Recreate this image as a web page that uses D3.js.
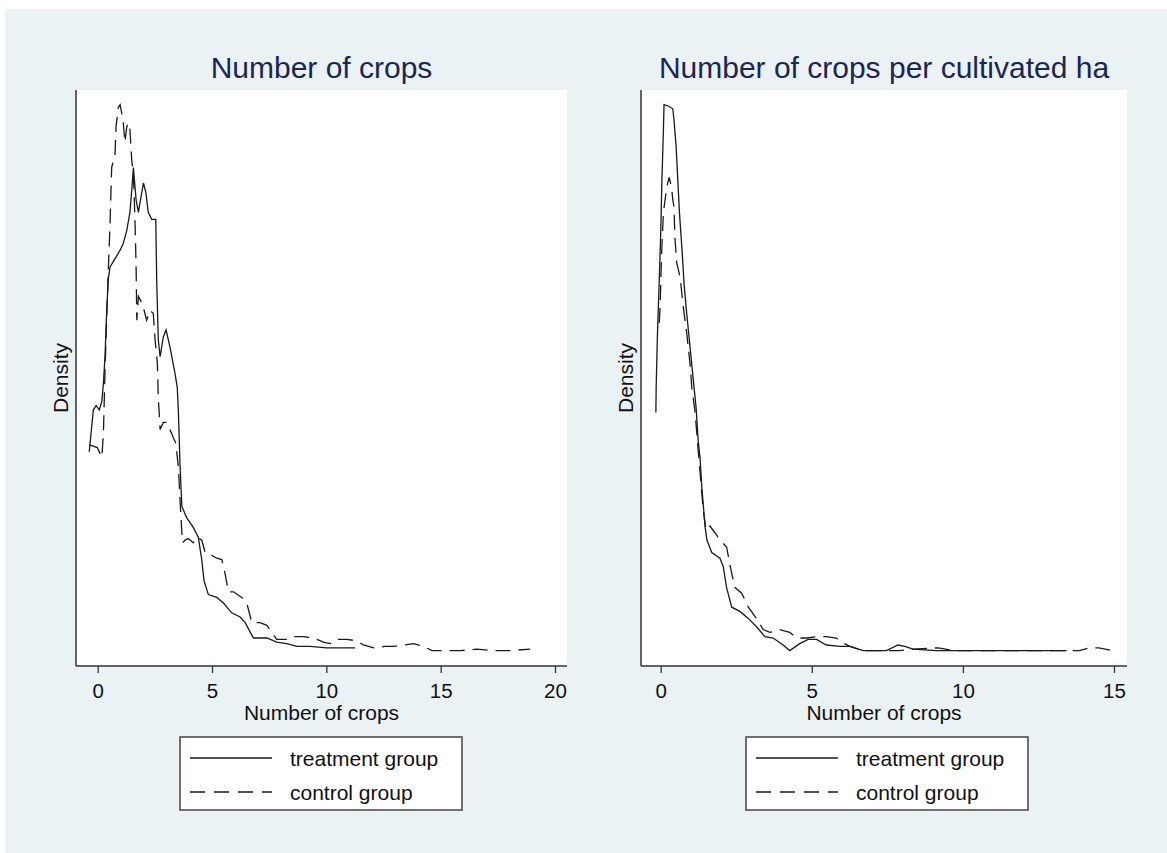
<!DOCTYPE html>
<html>
<head>
<meta charset="utf-8">
<script src="https://cdn.jsdelivr.net/npm/d3@7"></script>
<style>
  body { margin: 0; background: #fff; }
  text { font-family: "Liberation Sans", Arial, sans-serif; }
</style>
</head>
<body>
<script>
// kernel density curves (x = number of crops, y = density)
const leftTreatX = [-0.37,-0.19,-0.07,0.07,0.18,0.25,0.32,0.39,0.46,0.54,0.76,0.98,1.12,1.27,1.41,1.49,1.56,1.68,1.78,1.85,2.00,2.11,2.21,2.36,2.54,2.58,2.65,2.73,2.87,2.99,3.16,3.38,3.48,3.53,3.60,3.68,3.89,4.18,4.40,4.55,4.65,4.84,5.21,5.50,5.86,6.23,6.45,6.81,7.40,7.83,8.27,8.71,9.29,10.02,11.26];
const leftTreatY = [0.143,0.173,0.176,0.173,0.179,0.192,0.211,0.242,0.266,0.275,0.281,0.287,0.292,0.301,0.314,0.330,0.346,0.323,0.314,0.321,0.335,0.328,0.314,0.309,0.309,0.266,0.223,0.211,0.225,0.230,0.218,0.199,0.189,0.171,0.134,0.104,0.096,0.089,0.082,0.066,0.051,0.041,0.039,0.035,0.028,0.025,0.021,0.010,0.010,0.007,0.006,0.004,0.004,0.003,0.003];

const leftCtrlX = [-0.35,-0.02,0.18,0.25,0.32,0.39,0.46,0.54,0.61,0.76,0.80,0.90,0.98,1.05,1.12,1.19,1.27,1.34,1.41,1.49,1.56,1.63,1.68,1.71,1.78,1.88,2.00,2.14,2.29,2.43,2.51,2.61,2.65,2.73,2.87,3.02,3.16,3.31,3.42,3.45,3.53,3.60,3.68,3.72,3.82,3.96,4.18,4.33,4.55,4.70,4.84,4.99,5.21,5.43,5.57,5.72,5.94,6.30,6.52,6.74,7.10,7.40,7.61,7.83,8.27,8.56,9.00,9.44,9.87,10.17,10.46,10.90,11.33,11.62,12.07,12.57,12.94,13.37,13.81,14.25,14.62,14.84,15.86,16.58,17.31,18.04,18.92];
const leftCtrlY = [0.148,0.146,0.139,0.156,0.201,0.237,0.271,0.306,0.346,0.356,0.375,0.389,0.391,0.385,0.378,0.364,0.375,0.378,0.373,0.351,0.342,0.309,0.275,0.237,0.254,0.251,0.246,0.237,0.244,0.242,0.223,0.206,0.182,0.159,0.164,0.164,0.159,0.153,0.149,0.144,0.132,0.109,0.085,0.078,0.080,0.081,0.078,0.082,0.080,0.071,0.069,0.069,0.067,0.066,0.056,0.043,0.043,0.039,0.035,0.021,0.021,0.019,0.014,0.009,0.009,0.011,0.011,0.010,0.007,0.006,0.009,0.009,0.008,0.005,0.003,0.004,0.004,0.005,0.006,0.004,0.001,0.001,0.001,0.002,0.001,0.001,0.002];

const rightTreatX = [-0.16,-0.15,-0.11,-0.05,0.00,0.04,0.09,0.11,0.25,0.40,0.44,0.51,0.55,0.62,0.70,0.78,0.86,0.97,1.08,1.17,1.24,1.30,1.36,1.47,1.53,1.69,1.96,2.07,2.18,2.35,2.62,2.90,3.17,3.45,3.72,4.05,4.27,4.60,4.88,5.16,5.48,5.93,6.26,6.70,7.47,7.85,8.08,8.35,9.12,10.78,11.88,13.43];
const rightTreatY = [0.171,0.189,0.225,0.264,0.299,0.337,0.373,0.391,0.390,0.388,0.380,0.361,0.344,0.314,0.289,0.261,0.242,0.218,0.194,0.175,0.151,0.139,0.118,0.089,0.080,0.071,0.067,0.061,0.046,0.032,0.029,0.024,0.018,0.011,0.010,0.005,0.001,0.006,0.009,0.009,0.005,0.004,0.004,0.001,0.001,0.005,0.004,0.002,0.001,0.001,0.001,0.001];

const rightCtrlX = [-0.05,-0.02,0.03,0.09,0.20,0.28,0.36,0.40,0.44,0.47,0.53,0.64,0.75,0.86,0.97,1.03,1.14,1.24,1.41,1.50,1.63,1.80,1.96,2.18,2.35,2.46,2.68,2.90,3.17,3.39,3.61,3.94,4.27,4.50,4.83,5.16,5.48,5.81,5.98,6.26,6.70,7.47,7.90,8.35,9.18,9.68,11.88,13.31,13.86,14.20,14.50,14.96];
const rightCtrlY = [0.235,0.246,0.285,0.314,0.332,0.339,0.332,0.323,0.318,0.296,0.278,0.268,0.246,0.228,0.206,0.189,0.171,0.144,0.101,0.087,0.090,0.085,0.080,0.075,0.056,0.046,0.042,0.032,0.024,0.016,0.014,0.016,0.014,0.010,0.010,0.011,0.011,0.010,0.007,0.004,0.001,0.001,0.001,0.002,0.003,0.001,0.001,0.001,0.001,0.003,0.003,0.001];

const leftTicks = [0, 5, 10, 15, 20];
const rightTicks = [0, 5, 10, 15];
const panelTitles = ["Number of crops", "Number of crops per cultivated ha"];
const legendLabels = ["treatment group", "control group"];

function main(){
    const width = 1167, height = 853;
    const svg = d3.select("body").append("svg")
        .attr("width", width)
        .attr("height", height);

    // graph region
    svg.append("rect")
        .attr("x", 5).attr("y", 9)
        .attr("width", width - 5).attr("height", height - 9)
        .attr("fill", "#eaf2f3");

    const yScale = d3.scaleLinear().domain([0, 0.4]).range([652, 92]);

    const panels = [
        { title: panelTitles[0], left: 76, right: 567, x0: 97.7, x1: 555, dom: [0, 20], ticks: leftTicks,
          treat: d3.zip(leftTreatX, leftTreatY), ctrl: d3.zip(leftCtrlX, leftCtrlY), legX: 180 },
        { title: panelTitles[1], left: 641, right: 1127, x0: 660.7, x1: 1114, dom: [0, 15], ticks: rightTicks,
          treat: d3.zip(rightTreatX, rightTreatY), ctrl: d3.zip(rightCtrlX, rightCtrlY), legX: 746 }
    ];
    const top = 90, bottom = 666;

    panels.forEach(p => {
        const xScale = d3.scaleLinear().domain(p.dom).range([p.x0, p.x1]);
        const cx = (p.left + p.right) / 2;
        const g = svg.append("g");

        g.append("rect")
            .attr("x", p.left).attr("y", top)
            .attr("width", p.right - p.left).attr("height", bottom - top)
            .attr("fill", "white");

        const line = d3.line()
            .x(d => xScale(d[0]))
            .y(d => yScale(d[1]));

        g.append("path")
            .datum(p.treat)
            .attr("d", line)
            .attr("fill", "none")
            .attr("stroke", "#1a1a1a")
            .attr("stroke-width", 1.3);

        g.append("path")
            .datum(p.ctrl)
            .attr("d", line)
            .attr("fill", "none")
            .attr("stroke", "#1a1a1a")
            .attr("stroke-width", 1.3)
            .attr("stroke-dasharray", "15,8");

        // axes
        const xAxis = g.append("g")
            .attr("transform", "translate(0," + bottom + ")")
            .call(d3.axisBottom(xScale).tickValues(p.ticks).tickSize(7).tickPadding(10));
        xAxis.select(".domain").remove();
        xAxis.selectAll(".tick line").attr("stroke", "#333").attr("stroke-width", 1.3);
        xAxis.selectAll(".tick text")
            .attr("font-size", "20.5px")
            .attr("font-family", "Liberation Sans, Arial, sans-serif")
            .attr("fill", "#111");

        g.append("line")
            .attr("x1", p.left).attr("x2", p.right)
            .attr("y1", bottom).attr("y2", bottom)
            .attr("stroke", "#333").attr("stroke-width", 1.5);
        g.append("line")
            .attr("x1", p.left).attr("x2", p.left)
            .attr("y1", top).attr("y2", bottom)
            .attr("stroke", "#333").attr("stroke-width", 1.5);

        // titles
        g.append("text")
            .attr("x", cx).attr("y", 78)
            .attr("text-anchor", "middle")
            .attr("font-size", "30px")
            .attr("fill", "#1b2556")
            .text(p.title);

        g.append("text")
            .attr("x", cx).attr("y", 720)
            .attr("text-anchor", "middle")
            .attr("font-size", "21px")
            .attr("fill", "#111")
            .text("Number of crops");

        g.append("text")
            .attr("transform", "translate(" + (p.left - 8) + "," + ((top + bottom) / 2) + ") rotate(-90)")
            .attr("text-anchor", "middle")
            .attr("font-size", "21px")
            .attr("fill", "#111")
            .text("Density");

        // legend
        const leg = g.append("g").attr("transform", "translate(" + p.legX + ",737)");
        leg.append("rect")
            .attr("width", 282).attr("height", 73)
            .attr("fill", "white")
            .attr("stroke", "#444").attr("stroke-width", 1.5);
        legendLabels.forEach((lab, i) => {
            const yy = 21 + i * 34;
            leg.append("line")
                .attr("x1", 10).attr("x2", 92)
                .attr("y1", yy).attr("y2", yy)
                .attr("stroke", "#1a1a1a").attr("stroke-width", 1.3)
                .attr("stroke-dasharray", i === 1 ? "15,9" : null);
            leg.append("text")
                .attr("x", 110).attr("y", yy + 8)
                .attr("font-size", "21px")
                .attr("fill", "#111")
                .text(lab);
        });
    });
}
main();
</script>
</body>
</html>
